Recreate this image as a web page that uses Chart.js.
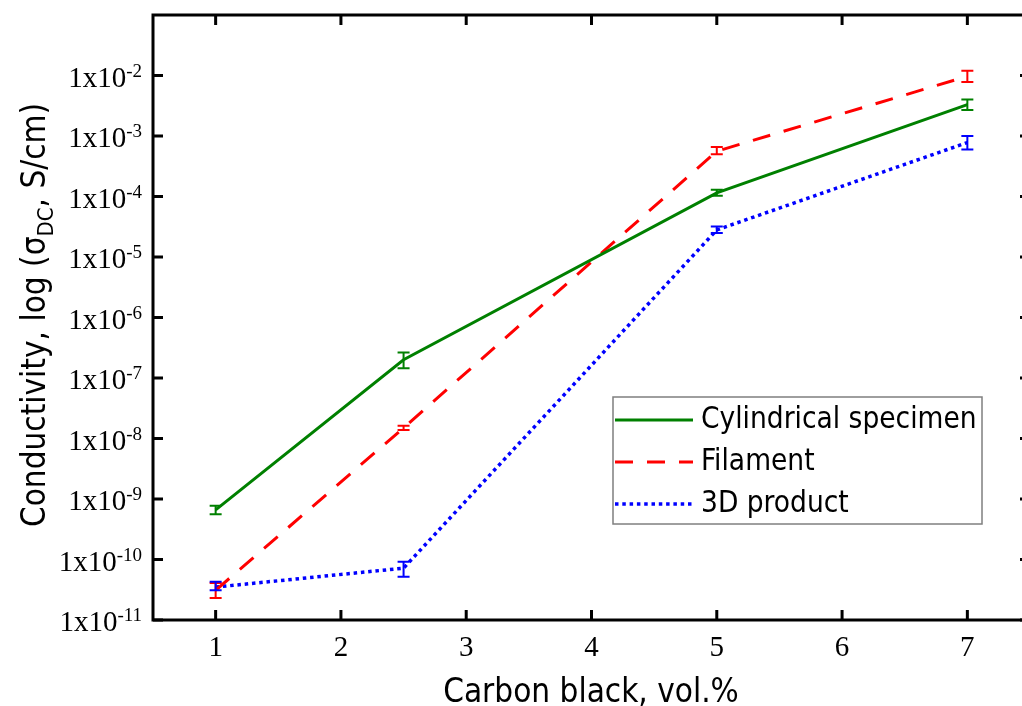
<!DOCTYPE html>
<html>
<head>
<meta charset="utf-8">
<script src="https://cdn.jsdelivr.net/npm/chart.js@4/dist/chart.umd.min.js"></script>
<style>
  html, body { margin: 0; padding: 0; background: #fff; overflow: hidden; }
  canvas { display: block; }
</style>
</head>
<body>
<canvas id="chart" width="1040" height="706"></canvas>
<script>
'use strict';

// carbon black content, vol.%
const xValues = [1, 2.5, 5, 7];

// conductivity, S/cm
const cylindrical = [6.6e-10, 2.0e-7, 1.15e-4, 3.3e-3];
const cylindricalLow = [5.6e-10, 1.45e-7, 1.03e-4, 2.7e-3];
const cylindricalHigh = [7.7e-10, 2.65e-7, 1.29e-4, 4.0e-3];

const filament = [3.1e-11, 1.5e-8, 5.6e-4, 9.7e-3];
const filamentLow = [2.3e-11, 1.38e-8, 5.0e-4, 7.8e-3];
const filamentHigh = [4.1e-11, 1.62e-8, 6.6e-4, 1.2e-2];

const product3d = [3.5e-11, 7.2e-11, 2.8e-5, 7.8e-4];
const product3dLow = [3.1e-11, 5.2e-11, 2.5e-5, 6.0e-4];
const product3dHigh = [4.3e-11, 9.2e-11, 3.2e-5, 1.0e-3];

const xTicks = [1, 2, 3, 4, 5, 6, 7];
const yExponents = [-11, -10, -9, -8, -7, -6, -5, -4, -3, -2];

const SERIF = "'Liberation Serif', 'Times New Roman', serif";
const SANS = "'DejaVu Sans Condensed', 'DejaVu Sans', sans-serif";

const toPoints = (ys) => ys.map((y, i) => ({ x: xValues[i], y: y }));

const datasets = [
    {
        label: 'Cylindrical specimen',
        data: toPoints(cylindrical),
        low: cylindricalLow, high: cylindricalHigh,
        borderColor: '#008000',
        borderWidth: 3,
        borderDash: []
    },
    {
        label: 'Filament',
        data: toPoints(filament),
        low: filamentLow, high: filamentHigh,
        borderColor: '#ff0000',
        borderWidth: 3,
        borderDash: [18, 14]
    },
    {
        label: '3D product',
        data: toPoints(product3d),
        low: product3dLow, high: product3dHigh,
        borderColor: '#0000ff',
        borderWidth: 3.5,
        borderDash: [3.5, 3.8]
    }
];

// error bars, frame, inward ticks, labels and legend
const decorPlugin = {
    id: 'decor',
    afterDatasetsDraw(chart) {
        const ctx = chart.ctx;
        const xs = chart.scales.x;
        const ys = chart.scales.y;
        const area = chart.chartArea;

        ctx.save();
        // error bars
        chart.data.datasets.forEach((ds) => {
            ctx.strokeStyle = ds.borderColor;
            ctx.lineWidth = 2;
            ctx.setLineDash([]);
            xValues.forEach((xv, i) => {
                const px = xs.getPixelForValue(xv);
                const top = ys.getPixelForValue(ds.high[i]);
                const bot = ys.getPixelForValue(ds.low[i]);
                ctx.beginPath();
                ctx.moveTo(px, top); ctx.lineTo(px, bot);
                ctx.moveTo(px - 6, top); ctx.lineTo(px + 6, top);
                ctx.moveTo(px - 6, bot); ctx.lineTo(px + 6, bot);
                ctx.stroke();
            });
        });

        // frame
        ctx.strokeStyle = '#000';
        ctx.lineWidth = 3;
        ctx.strokeRect(area.left, area.top, area.right - area.left, area.bottom - area.top);

        // inward ticks
        ctx.beginPath();
        xTicks.forEach((t) => {
            const px = xs.getPixelForValue(t);
            ctx.moveTo(px, area.bottom); ctx.lineTo(px, area.bottom - 10);
            ctx.moveTo(px, area.top); ctx.lineTo(px, area.top + 10);
        });
        yExponents.forEach((e) => {
            const py = ys.getPixelForValue(Math.pow(10, e));
            ctx.moveTo(area.left, py); ctx.lineTo(area.left + 10, py);
            ctx.moveTo(area.right, py); ctx.lineTo(area.right - 10, py);
        });
        ctx.stroke();

        // x tick labels
        ctx.fillStyle = '#000';
        ctx.font = '29px ' + SERIF;
        ctx.textAlign = 'center';
        ctx.textBaseline = 'alphabetic';
        xTicks.forEach((t) => {
            ctx.fillText(String(t), xs.getPixelForValue(t), area.bottom + 36);
        });

        // y tick labels: 1x10^e
        yExponents.forEach((e) => {
            const py = ys.getPixelForValue(Math.pow(10, e));
            const sup = String(e);
            ctx.font = '19px ' + SERIF;
            const supW = ctx.measureText(sup).width;
            ctx.textAlign = 'left';
            ctx.fillText(sup, area.left - 11 - supW, py + 1);
            ctx.font = '29px ' + SERIF;
            ctx.textAlign = 'right';
            ctx.fillText('1x10', area.left - 11 - supW, py + 11);
        });

        // x title
        ctx.font = '33px ' + SANS;
        ctx.textAlign = 'center';
        ctx.fillText('Carbon black, vol.%', 591, 702);

        // y title with subscript
        const parts = [
            { t: 'Conductivity, log (\u03c3', size: 33, dy: 0 },
            { t: 'DC', size: 22, dy: 8 },
            { t: ', S/cm)', size: 33, dy: 0 }
        ];
        let total = 0;
        parts.forEach((p) => {
            ctx.font = p.size + 'px ' + SANS;
            p.w = ctx.measureText(p.t).width;
            total += p.w;
        });
        ctx.translate(45, 315);
        ctx.rotate(-Math.PI / 2);
        ctx.textAlign = 'left';
        let cx = -total / 2;
        parts.forEach((p) => {
            ctx.font = p.size + 'px ' + SANS;
            ctx.fillText(p.t, cx, p.dy);
            cx += p.w;
        });
        ctx.setTransform(1, 0, 0, 1, 0, 0);

        // legend
        const lx = 613, ly = 397, lw = 369, lh = 127;
        ctx.fillStyle = '#fff';
        ctx.fillRect(lx, ly, lw, lh);
        ctx.strokeStyle = '#7f7f7f';
        ctx.lineWidth = 1.5;
        ctx.strokeRect(lx, ly, lw, lh);
        chart.data.datasets.forEach((ds, i) => {
            const ry = 420 + i * 42;
            ctx.strokeStyle = ds.borderColor;
            ctx.lineWidth = ds.borderWidth;
            ctx.setLineDash(ds.borderDash);
            ctx.beginPath();
            ctx.moveTo(615, ry); ctx.lineTo(693, ry);
            ctx.stroke();
            ctx.setLineDash([]);
            ctx.fillStyle = '#000';
            ctx.font = '29.5px ' + SANS;
            ctx.textAlign = 'left';
            ctx.textBaseline = 'middle';
            ctx.fillText(ds.label, 701, ry);
        });
        ctx.restore();
    }
};

new Chart(document.getElementById('chart'), {
    type: 'line',
    data: { datasets: datasets },
    options: {
        responsive: false,
        animation: false,
        devicePixelRatio: 1,
        layout: { padding: { left: 153, top: 15, right: 10, bottom: 86 } },
        elements: {
            point: { radius: 0 },
            line: { tension: 0, borderCapStyle: 'butt' }
        },
        plugins: {
            legend: { display: false },
            tooltip: { enabled: false }
        },
        scales: {
            x: {
                type: 'linear',
                min: 0.5,
                max: 7.5,
                grid: { display: false },
                border: { display: false },
                ticks: { display: false },
                afterFit: (s) => { s.height = 0; }
            },
            y: {
                type: 'logarithmic',
                min: 1e-11,
                max: 1e-1,
                grid: { display: false },
                border: { display: false },
                ticks: { display: false },
                afterFit: (s) => { s.width = 0; }
            }
        }
    },
    plugins: [decorPlugin]
});
</script>
</body>
</html>
